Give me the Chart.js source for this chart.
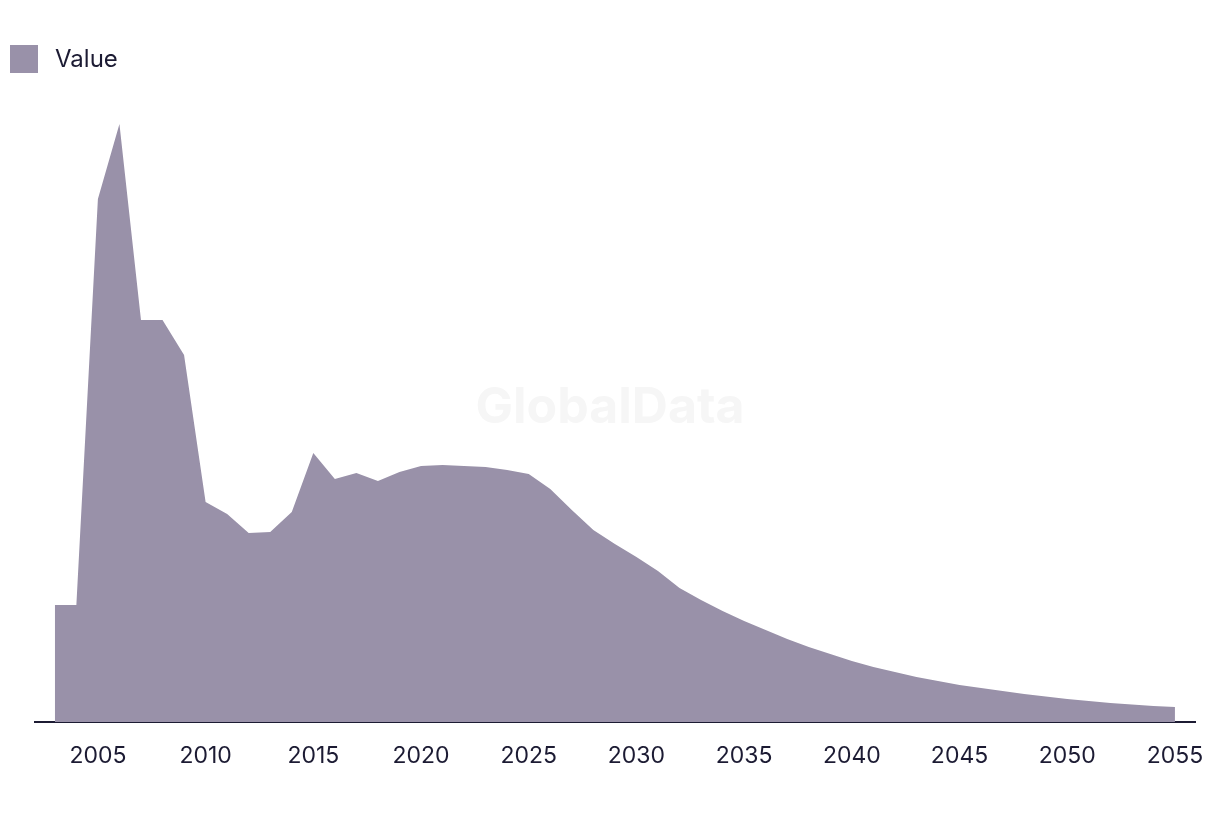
<!DOCTYPE html>
<html>
<head>
<meta charset="utf-8">
<script src="https://cdn.jsdelivr.net/npm/chart.js@4"></script>
<style>
  body { margin: 0; background: #fff; font-family: Inter, "Noto Sans", sans-serif; }
  #wrap { position: relative; width: 1220px; height: 814px; }
  #legenda { position: absolute; left: 10px; top: 44px; display: flex; align-items: center; color: #1c1b33; font-size: 24px; }
  #legenda .caixa { width: 28px; height: 28px; background: #9991a9; margin-right: 17px; }
</style>
</head>
<body>
<div id="wrap">
  <canvas id="grafico" width="1220" height="814"></canvas>
  <div id="legenda"><div class="caixa"></div><span>Value</span></div>
</div>
<script>
const anos = [
  2003, 2004, 2005, 2006, 2007, 2008, 2009, 2010, 2011, 2012, 2013, 2014, 2015, 2016, 2017, 2018, 2019,
  2020, 2021, 2022, 2023, 2024, 2025, 2026, 2027, 2028, 2029, 2030, 2031, 2032, 2033, 2034, 2035, 2036,
  2037, 2038, 2039, 2040, 2041, 2042, 2043, 2044, 2045, 2046, 2047, 2048, 2049, 2050, 2051, 2052, 2053,
  2054, 2055
]
const valores = [
  117, 117, 523, 598, 402, 402, 367, 220, 208, 189, 190, 210, 269, 243, 249, 241, 250,
  256, 257, 256, 255, 252, 248, 233, 212, 192, 178, 165, 151, 134, 122, 111, 101, 92,
  83, 75, 68, 61, 55, 50, 45, 41, 37, 34, 31, 28, 25.5, 23, 21, 19, 17.5,
  16, 15
]
const rotulosX = [2005, 2010, 2015, 2020, 2025, 2030, 2035, 2040, 2045, 2050, 2055]

const marcaDagua = {
  id: 'marcaDagua',
  beforeDraw(chart) {
    const ctx = chart.ctx
    ctx.save()
    ctx.font = 'bold 50px Inter, "Noto Sans", sans-serif'
    ctx.fillStyle = '#f6f6f6'
    ctx.textAlign = 'center'
    ctx.textBaseline = 'middle'
    ctx.fillText('GlobalData', 610, 408)
    ctx.restore()
  }
}

const ctx = document.getElementById('grafico').getContext('2d')
new Chart(ctx, {
  type: 'line',
  data: {
    datasets: [{
      label: 'Value',
      data: anos.map(function(a, i) { return { x: a, y: valores[i] } }),
      fill: 'origin',
      backgroundColor: '#9991a9',
      borderWidth: 0,
      pointRadius: 0,
      tension: 0
    }]
  },
  options: {
    responsive: false,
    animation: false,
    layout: { padding: { left: 35, right: 25, top: 100, bottom: 0 } },
    plugins: { legend: { display: false }, tooltip: { enabled: false } },
    scales: {
      x: {
        type: 'linear',
        min: 2002.08,
        max: 2055.93,
        afterBuildTicks: function(scale) {
          scale.ticks = rotulosX.map(function(v) { return { value: v } })
        },
        afterFit: function(scale) {
          scale.height = 92
          scale.paddingLeft = 0
          scale.paddingRight = 0
        },
        grid: { display: false, drawTicks: false },
        border: { display: true, color: '#1c1b33', width: 2 },
        ticks: {
          padding: 20,
          maxRotation: 0,
          autoSkip: false,
          color: '#1c1b33',
          font: { family: 'Inter, "Noto Sans", sans-serif', size: 23 },
          callback: function(v) { return String(v) }
        }
      },
      y: {
        display: false,
        min: 0,
        max: 622
      }
    }
  },
  plugins: [marcaDagua]
})
</script>
</body>
</html>
